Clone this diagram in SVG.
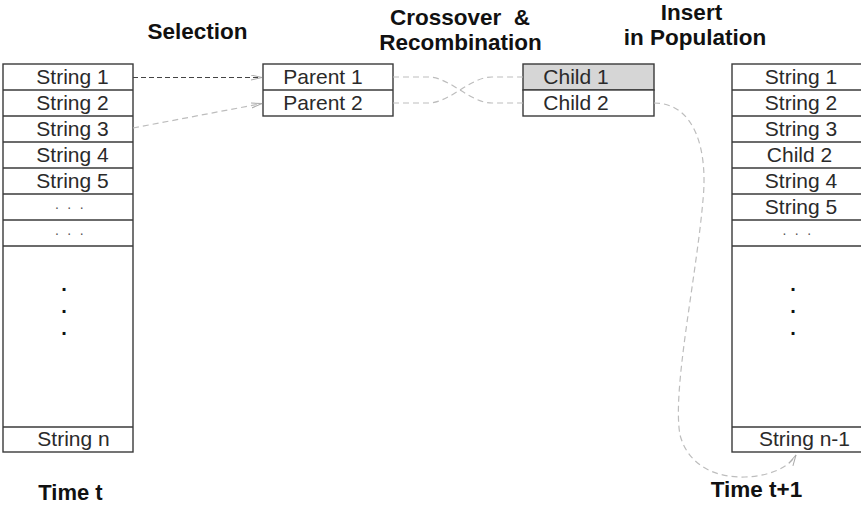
<svg xmlns="http://www.w3.org/2000/svg" width="861" height="506" viewBox="0 0 861 506">
<style>
.box{fill:#fff;stroke:#3a3a3a;stroke-width:1.4}
.sep{stroke:#3a3a3a;stroke-width:1.4}
.hl{fill:#d6d6d6;stroke:#3a3a3a;stroke-width:1.4}
.t{font-family:"Liberation Sans",Arial,sans-serif;font-size:21px;fill:#2a2a2a;text-anchor:middle}
.h{font-family:"Liberation Sans",Arial,sans-serif;font-size:22.5px;font-weight:bold;fill:#111;text-anchor:middle}
.d{font-family:"Liberation Sans",Arial,sans-serif;font-size:14px;fill:#555;text-anchor:middle;letter-spacing:2.35px}
.bd{font-family:"Liberation Sans",Arial,sans-serif;font-size:20px;font-weight:bold;fill:#111;text-anchor:middle}
.c{fill:none;stroke:#bdbdbd;stroke-width:1.2;stroke-dasharray:6,4}
.cd{fill:none;stroke:#444;stroke-width:1.2;stroke-dasharray:5,3}
</style>
<defs>
<marker id="arr" markerWidth="12" markerHeight="8" refX="11" refY="3" orient="auto" markerUnits="userSpaceOnUse">
<path d="M0,0.5 L11,3 L0,5.5" fill="none" stroke="#aaa" stroke-width="1"/>
</marker>
</defs>

<g id="titles">
<text class="h" x="197.5" y="39">Selection</text>
<text class="h" x="460" y="25" style="white-space:pre">Crossover  &amp;</text>
<text class="h" x="460.5" y="50">Recombination</text>
<text class="h" x="691.5" y="20">Insert</text>
<text class="h" x="695" y="45">in Population</text>
<text class="h" x="70.5" y="500" style="font-size:22px">Time t</text>
<text class="h" x="756.5" y="497">Time t+1</text>
</g>

<g id="population-t">
<rect class="box" x="3" y="64" width="130" height="388"/>
<line class="sep" x1="3" y1="90" x2="133" y2="90"/>
<line class="sep" x1="3" y1="116" x2="133" y2="116"/>
<line class="sep" x1="3" y1="142" x2="133" y2="142"/>
<line class="sep" x1="3" y1="168" x2="133" y2="168"/>
<line class="sep" x1="3" y1="194" x2="133" y2="194"/>
<line class="sep" x1="3" y1="220" x2="133" y2="220"/>
<line class="sep" x1="3" y1="246" x2="133" y2="246"/>
<line class="sep" x1="3" y1="427" x2="133" y2="427"/>
<text class="t" x="72.5" y="84">String 1</text>
<text class="t" x="72.5" y="110">String 2</text>
<text class="t" x="72.5" y="136">String 3</text>
<text class="t" x="72.5" y="162">String 4</text>
<text class="t" x="72.5" y="188">String 5</text>
<text class="d" x="70.5" y="209">. . .</text>
<text class="d" x="70.5" y="235">. . .</text>
<text class="bd" x="64" y="291">.</text>
<text class="bd" x="64" y="313">.</text>
<text class="bd" x="64" y="335">.</text>
<text class="t" x="73.5" y="446">String n</text>
</g>

<g id="parents">
<rect class="box" x="263" y="64" width="130" height="52"/>
<line class="sep" x1="263" y1="90" x2="393" y2="90"/>
<text class="t" x="323" y="84">Parent 1</text>
<text class="t" x="323" y="110">Parent 2</text>
</g>

<g id="children">
<rect class="hl" x="523" y="64" width="131" height="26"/>
<rect class="box" x="523" y="90" width="131" height="26"/>
<text class="t" x="576" y="84">Child 1</text>
<text class="t" x="576" y="110">Child 2</text>
</g>

<g id="population-t1">
<rect class="box" x="732" y="64" width="135" height="388"/>
<line class="sep" x1="732" y1="90" x2="867" y2="90"/>
<line class="sep" x1="732" y1="116" x2="867" y2="116"/>
<line class="sep" x1="732" y1="142" x2="867" y2="142"/>
<line class="sep" x1="732" y1="168" x2="867" y2="168"/>
<line class="sep" x1="732" y1="194" x2="867" y2="194"/>
<line class="sep" x1="732" y1="220" x2="867" y2="220"/>
<line class="sep" x1="732" y1="246" x2="867" y2="246"/>
<line class="sep" x1="732" y1="427" x2="867" y2="427"/>
<text class="t" x="801" y="84">String 1</text>
<text class="t" x="801" y="110">String 2</text>
<text class="t" x="801" y="136">String 3</text>
<text class="t" x="799.5" y="162">Child 2</text>
<text class="t" x="801" y="188">String 4</text>
<text class="t" x="801" y="214">String 5</text>
<text class="d" x="798" y="235">. . .</text>
<text class="bd" x="793" y="291">.</text>
<text class="bd" x="793" y="313">.</text>
<text class="bd" x="793" y="335">.</text>
<text class="t" x="804.5" y="446">String n-1</text>
</g>

<g id="connectors">
<path class="cd" d="M133,77.5 H262" marker-end="url(#arr)"/>
<path class="c" d="M133,128 L262,103.5" marker-end="url(#arr)"/>
<path class="c" d="M393,77 H428 C450,77 470,103 492,103 H523"/>
<path class="c" d="M393,103 H428 C450,103 470,77 492,77 H523"/>
<path class="c" d="M654,103 C695,103 708,150 703,200 C696,280 672,390 680,435 C688,465 715,478 745,477 C772,476 790,466 796,455" marker-end="url(#arr)"/>
</g>
</svg>
